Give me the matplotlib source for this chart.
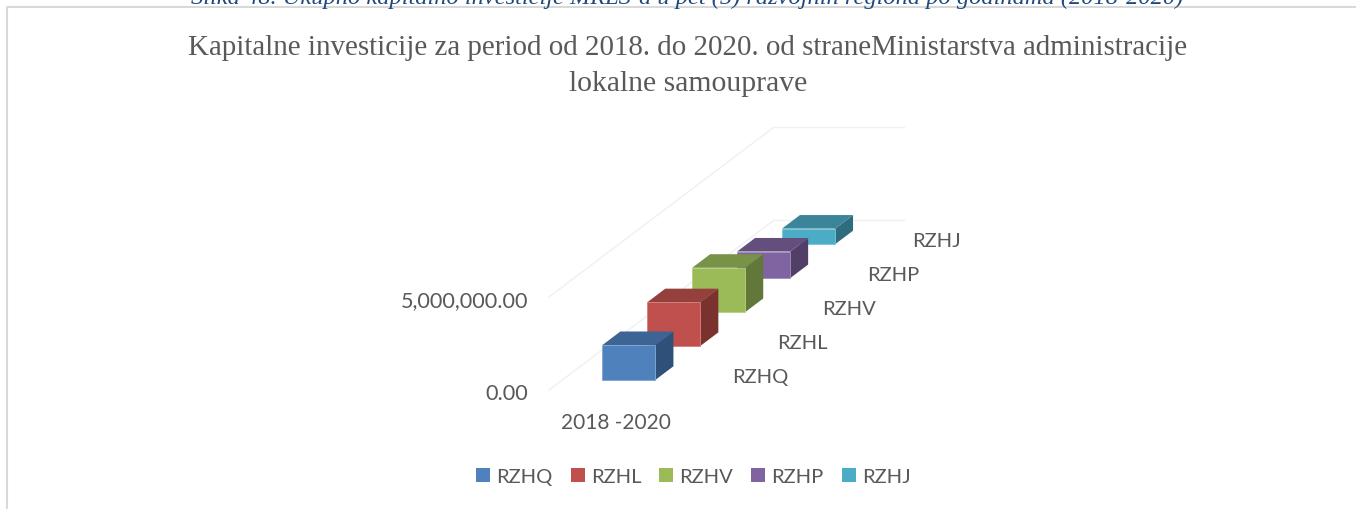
#!python3
# -*- coding: UTF-8 -*-

import matplotlib
matplotlib.use("Agg")
import matplotlib.pyplot as plt
from matplotlib.patches import Polygon, Rectangle

### CONFIG SECTION
W, H = 1356, 510

title_lines = ["Kapitalne investicije za period od 2018. do 2020. od straneMinistarstva administracije",
               "lokalne samouprave"]
caption = "Slika 48. Ukupno kapitalno investicije MRLS-a u pet (5) razvojnih regiona po godinama (2018-2020)"
category = "2018 -2020"
regions = ["RZHQ", "RZHL", "RZHV", "RZHP", "RZHJ"]
values = [1870000, 2350000, 2380000, 1430000, 840000]
y_ticks = [0, 5000000]
y_tick_labels = ["0.00", "5,000,000.00"]

front_colors = ["#4f81bd", "#c0504d", "#9bbb59", "#8064a2", "#4bacc6"]
edge_colors = ["#7fa3d0", "#d07f7c", "#b5cf7f", "#a08bbd", "#7cc4d8"]
top_colors = ["#3c6494", "#95403d", "#789247", "#634e7e", "#3a8599"]
side_colors = ["#2f5078", "#7a322f", "#62773a", "#523f68", "#2f6c7d"]
text_color = "#595959"
label_font = "Lato"
### END of config section


def project(c, d, v):
    """ oblique 3D projection: category pos, series depth, value -> pixels """
    return 549 + 131 * c + 44.9 * d, 391 - 33.9 * d - 93 * v / 5000000


def box(ax, i, v):
    c0, c1 = 0.305, 0.71
    d0, d1 = i + 0.3, i + 0.7
    front = [project(c0, d0, 0), project(c1, d0, 0), project(c1, d0, v), project(c0, d0, v)]
    top = [project(c0, d0, v), project(c1, d0, v), project(c1, d1, v), project(c0, d1, v)]
    side = [project(c1, d0, 0), project(c1, d1, 0), project(c1, d1, v), project(c1, d0, v)]
    z = 10 - i
    ax.add_patch(Polygon(side, fc=side_colors[i], ec="none", zorder=z))
    ax.add_patch(Polygon(top, fc=top_colors[i], ec="none", zorder=z))
    ax.add_patch(Polygon(front, fc=front_colors[i], ec=edge_colors[i], lw=0.6, zorder=z))


if __name__ == "__main__":
    fig = plt.figure(figsize=(W / 100, H / 100), dpi=100)
    ax = fig.add_axes([0, 0, 1, 1])
    ax.set_xlim(0, W)
    ax.set_ylim(H, 0)
    ax.axis("off")

    # chart frame, cut by the page crop on the right and bottom
    ax.plot([7, 7, W], [H, 8, 8], color="#d9d9d9", lw=1.5, zorder=1)

    # caption of the page above, only its lower half is visible
    ax.text(687.5, 4, caption, family="Liberation Serif", style="italic", fontsize=17.6,
            color="#1f497d", ha="center", va="baseline")

    ax.text(688, 48, title_lines[0], family="Liberation Serif", fontsize=20.9, color=text_color,
            ha="center", va="center")
    ax.text(688, 84, title_lines[1], family="Liberation Serif", fontsize=21.4, color=text_color,
            ha="center", va="center")

    # gridlines: wall and floor
    for t in y_ticks:
        pts = [project(0, 0, t), project(0, 5, t), project(1, 5, t)]
        ax.plot([p[0] for p in pts], [p[1] for p in pts], color="#f0f0f0", lw=1, zorder=2)

    for t, lab in zip(y_ticks, y_tick_labels):
        x, y = project(0, 0, t)
        ax.text(x - 21, y + 3, lab, family=label_font, fontsize=15.6, color=text_color,
                ha="right", va="center")

    for i, v in enumerate(values):
        box(ax, i, v)
        # depth axis labels
        x, y = project(1, i + 0.5, 0)
        ax.text(x + 30, y + 3, regions[i], family=label_font, fontsize=14.5, color=text_color,
                ha="left", va="center")

    ax.text(615.5, 423, category, family=label_font, fontsize=15, color=text_color, ha="center", va="center")

    # legend
    leg_x = [476, 571, 659, 751, 842]
    for i, lab in enumerate(regions):
        ax.add_patch(Rectangle((leg_x[i], 469), 14, 14, fc=front_colors[i], ec="none"))
        ax.text(leg_x[i] + 20, 478, lab, family=label_font, fontsize=14.5, color=text_color,
                ha="left", va="center")

    fig.savefig("out.png", dpi=100)
